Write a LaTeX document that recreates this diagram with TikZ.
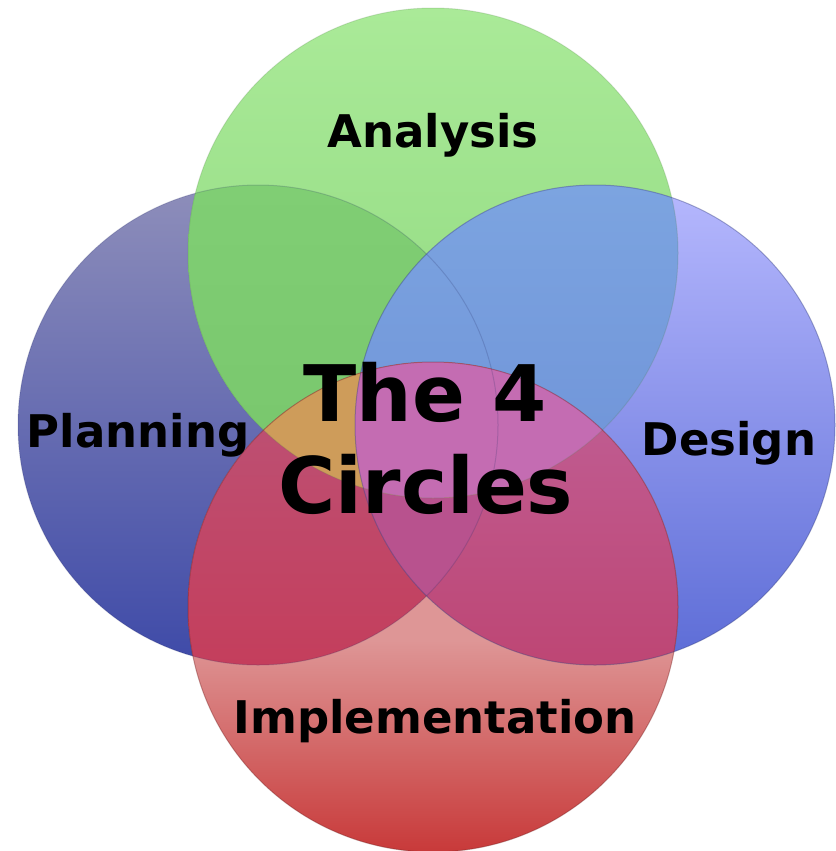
\documentclass[tikz,border=0pt]{standalone}
\usepackage{fontspec}
\setmainfont{DejaVu Sans}
% single circles on white
\definecolor{pTop}{RGB}{142,142,186}
\definecolor{pBot}{RGB}{62,74,168}
\definecolor{gTop}{RGB}{170,234,152}
\definecolor{gBot}{RGB}{140,214,124}
\definecolor{dTop}{RGB}{182,184,254}
\definecolor{dBot}{RGB}{92,108,214}
\definecolor{rTop}{RGB}{222,150,150}
\definecolor{rBot}{RGB}{200,58,58}
% overlaps
\definecolor{gpTop}{RGB}{128,206,116}
\definecolor{gpBot}{RGB}{116,194,104}
\definecolor{gdTop}{RGB}{124,164,224}
\definecolor{gdBot}{RGB}{104,138,212}
\definecolor{rpTop}{RGB}{182,96,136}
\definecolor{rpBot}{RGB}{196,62,92}
\definecolor{rdTop}{RGB}{192,112,172}
\definecolor{rdBot}{RGB}{190,70,116}
\definecolor{rpd}{RGB}{184,82,142}
\definecolor{rgp}{RGB}{206,156,90}
\definecolor{rgd}{RGB}{196,108,178}
\tikzset{
  edge/.style={draw opacity=0.4, line width=0.5pt},
  faint/.style={draw opacity=0.2, line width=0.5pt},
  lbl/.style={font=\fontsize{22.5}{27}\selectfont\bfseries, text=black, inner sep=0pt},
  big/.style={font=\fontsize{39}{46}\selectfont\bfseries, text=black, inner sep=0pt}
}
\begin{document}
\begin{tikzpicture}[x=0.5pt,y=-0.5pt]
\useasboundingbox (0,0) rectangle (835,851);
\coordinate (cP) at (258,425);
\coordinate (cG) at (433,253);
\coordinate (cD) at (595,425);
\coordinate (cR) at (433,607);
% base circles
\shade[top color=pTop, bottom color=pBot] (cP) circle[radius=120pt];
\shade[top color=gTop, bottom color=gBot] (cG) circle[radius=122.5pt];
\shade[top color=dTop, bottom color=dBot] (cD) circle[radius=120pt];
\begin{scope}
  \clip (cR) circle[radius=122.5pt];
  \shade[top color=rTop, bottom color=rBot] (0,640) rectangle (835,851);
  \fill[rTop] (0,360) rectangle (835,640.5);
\end{scope}
% green overlaps
\begin{scope}
  \clip (cG) circle[radius=122.5pt];
  \shade[top color=gpTop, bottom color=gpBot] (cP) circle[radius=120pt];
  \shade[top color=gdTop, bottom color=gdBot] (cD) circle[radius=120pt];
\end{scope}
% red overlaps
\begin{scope}
  \clip (cR) circle[radius=122.5pt];
  \shade[top color=rpTop, bottom color=rpBot] (cP) circle[radius=120pt];
  \shade[top color=rdTop, bottom color=rdBot] (cD) circle[radius=120pt];
  \begin{scope}
    \clip (cP) circle[radius=120pt];
    \fill[rpd] (cD) circle[radius=120pt];
  \end{scope}
  \begin{scope}
    \clip (cG) circle[radius=122.5pt];
    \fill[rgp] (cP) circle[radius=120pt];
    \fill[rgd] (cD) circle[radius=120pt];
  \end{scope}
\end{scope}
% outlines
\draw[faint, draw=pBot!60!black] (cP) circle[radius=120pt];
\draw[faint, draw=gBot!60!black] (cG) circle[radius=122.5pt];
\draw[edge, draw=dBot!60!black] (cD) circle[radius=120pt];
\draw[edge, draw=rBot!60!black] (cR) circle[radius=122.5pt];
% labels
\node[lbl, anchor=base] (analysis) at (433,147) {Analysis};
\node[lbl, anchor=base] (planning) at (138,447) {Planning};
\node[lbl, anchor=base] (design) at (729,455) {Design};
\node[lbl, anchor=base] (impl) at (435,733) {Implementation};
\node[big, anchor=base] (t1) at (425,421) {The 4};
\node[big, anchor=base] (t2) at (426,513) {Circles};
\end{tikzpicture}
\end{document}
